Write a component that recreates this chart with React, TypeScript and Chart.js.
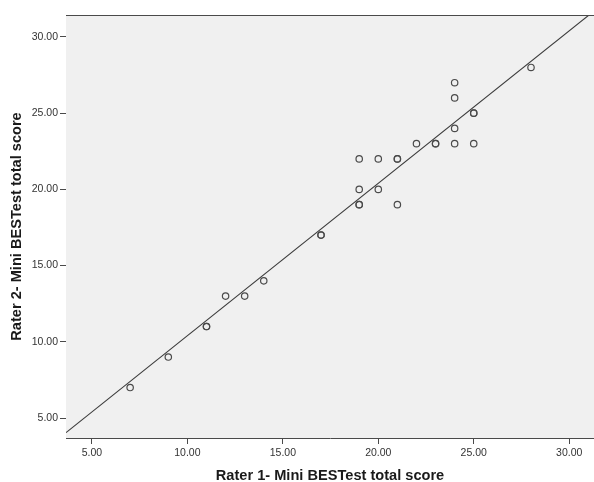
import React, { useEffect, useRef } from "react";
import { Chart, registerables } from "chart.js";

Chart.register(...registerables);

// Rater scores (duplicates kept: overlapping points look darker)
const rater1: number[] = [7, 9, 11, 11, 12, 13, 14, 17, 17, 19, 19, 19, 19, 20, 20, 21, 21, 21, 22, 23, 23, 24, 24, 24, 24, 25, 25, 25, 28];
const rater2: number[] = [7, 9, 11, 11, 13, 13, 14, 17, 17, 22, 20, 19, 19, 22, 20, 22, 22, 19, 23, 23, 23, 27, 26, 24, 23, 25, 25, 23, 28];

// Fit line
const fitSlope = 1.0;
const fitIntercept = 0.4;

// Axis ranges / ticks
const xMin = 3.64;
const xMax = 31.3;
const yMin = 3.69;
const yMax = 31.44;
const tickStep = 5;

const xTitle = "Rater 1- Mini BESTest total score";
const yTitle = "Rater 2- Mini BESTest total score";

const frameColor = "#4a4a4a";

const framePlugin = {
  id: "frame",
  beforeDatasetsDraw(chart: any) {
    const { ctx, chartArea } = chart;
    ctx.save();
    ctx.fillStyle = "#f0f0f0";
    ctx.fillRect(chartArea.left, chartArea.top, chartArea.right - chartArea.left, chartArea.bottom - chartArea.top);
    ctx.restore();
  },
  afterDatasetsDraw(chart: any) {
    const { ctx, chartArea } = chart;
    ctx.save();
    ctx.strokeStyle = frameColor;
    ctx.lineWidth = 1;
    ctx.beginPath();
    ctx.moveTo(chartArea.left, chartArea.top + 0.5);
    ctx.lineTo(chartArea.right, chartArea.top + 0.5);
    ctx.stroke();
    ctx.restore();
  },
};

export default function App() {
  const ref = useRef<HTMLCanvasElement | null>(null);

  useEffect(() => {
    if (!ref.current) return;
    Chart.defaults.font.family = "'Liberation Sans', Arial, sans-serif";
    const points = rater1.map((x, i) => ({ x, y: rater2[i] }));
    const fitPoints = [xMin, xMax].map((x) => ({ x, y: fitSlope * x + fitIntercept }));

    const chart = new Chart(ref.current, {
      type: "scatter",
      data: {
        datasets: [
          {
            type: "line",
            data: fitPoints,
            borderColor: "#3a3a3a",
            borderWidth: 1.1,
            pointRadius: 0,
            fill: false,
            clip: 0,
          } as any,
          {
            data: points,
            pointStyle: "circle",
            pointRadius: 3.2,
            pointBorderWidth: 1.2,
            pointBorderColor: "#4a4a4a",
            pointBackgroundColor: "rgba(0,0,0,0)",
            pointHoverRadius: 3.2,
          } as any,
        ],
      },
      options: {
        animation: false,
        responsive: false,
        events: [],
        layout: { autoPadding: false, padding: { top: 15, left: 0, right: 0, bottom: 0 } },
        plugins: {
          legend: { display: false },
          tooltip: { enabled: false },
        },
        scales: {
          x: {
            type: "linear",
            min: xMin,
            max: xMax,
            afterFit: (s: any) => {
              s.height = 44;
              s.paddingRight = 0;
              s.paddingLeft = 0;
            },
            border: { display: true, color: frameColor, width: 1 },
            grid: { drawOnChartArea: false, drawTicks: true, tickLength: 6, tickColor: frameColor },
            ticks: {
              stepSize: tickStep,
              includeBounds: false,
              padding: 3,
              color: "#333",
              font: { size: 10.5 },
              maxRotation: 0,
              callback: (v: any) => Number(v).toFixed(2),
            },
            title: {
              display: true,
              text: xTitle,
              color: "#1a1a1a",
              font: { size: 14.6, weight: "bold" },
              padding: { top: 0, bottom: -3 },
            },
          },
          y: {
            type: "linear",
            min: yMin,
            max: yMax,
            afterFit: (s: any) => {
              s.width = 66;
              s.paddingTop = 0;
              s.paddingBottom = 0;
            },
            border: { display: true, color: frameColor, width: 1 },
            grid: { drawOnChartArea: false, drawTicks: true, tickLength: 6, tickColor: frameColor },
            ticks: {
              stepSize: tickStep,
              includeBounds: false,
              padding: 2,
              color: "#333",
              font: { size: 10.5 },
              callback: (v: any) => Number(v).toFixed(2),
            },
            title: {
              display: true,
              text: yTitle,
              color: "#1a1a1a",
              font: { size: 14.6, weight: "bold" },
              padding: { top: 8, bottom: 0 },
            },
          },
        },
      },
      plugins: [framePlugin],
    });
    return () => chart.destroy();
  }, []);

  return (
    <div style={{ position: "absolute", left: 0, top: 0, width: 594, height: 482, background: "#fff" }}>
      <canvas ref={ref} width={594} height={482} style={{ width: 594, height: 482, display: "block" }} />
    </div>
  );
}
